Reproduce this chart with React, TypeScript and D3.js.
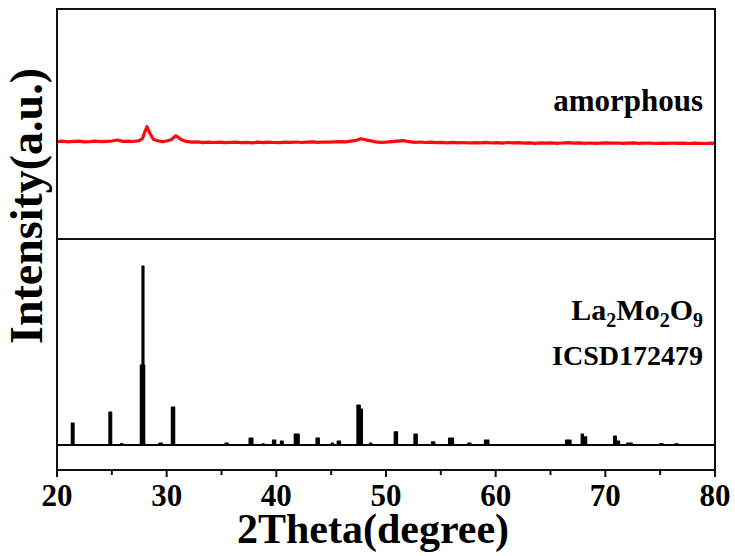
import React from "react";
import * as d3 from "d3";

const W = 735;
const H = 556;

// amorphous pattern (2θ, intensity a.u.)
const amorphX = [20, 20.5, 21, 21.5, 22, 22.5, 23, 23.5, 24, 24.5, 25, 25.5, 26, 26.5, 27, 27.5, 27.8, 28.0, 28.2, 28.45, 28.8, 29.2, 29.6, 30, 30.4, 30.85, 31.3, 31.8, 32.3, 32.8, 33.3, 33.8, 34.3, 34.8, 35.3, 35.8, 36.3, 36.8, 37.3, 37.8, 38.3, 38.8, 39.3, 39.8, 40.3, 40.8, 41.3, 41.8, 42.3, 42.8, 43.3, 43.8, 44.3, 44.8, 45.3, 45.8, 46.3, 46.8, 47.3, 47.7, 48.1, 48.5, 49, 49.5, 50, 50.5, 51, 51.6, 52.1, 52.6, 53.1, 53.6, 54.1, 54.6, 55.1, 55.6, 56.1, 56.6, 57.1, 57.6, 58.1, 58.6, 59.1, 59.6, 60.1, 60.6, 61.1, 61.6, 62.1, 62.6, 63.1, 63.6, 64.1, 64.6, 65.1, 65.6, 66.1, 66.6, 67.1, 67.6, 68.1, 68.6, 69.1, 69.6, 70.1, 70.6, 71.1, 71.6, 72.1, 72.6, 73.1, 73.6, 74.1, 74.6, 75.1, 75.6, 76.1, 76.6, 77.1, 77.6, 78.1, 78.6, 79.1, 79.6, 80];
const amorphY = [97.5, 97.9, 97.2, 97.6, 97.8, 97.1, 97.4, 97.9, 97.3, 97.6, 98.0, 99.0, 97.6, 97.9, 97.5, 98.3, 100.5, 107, 112.3, 106, 99.5, 98.2, 97.4, 98.0, 99.2, 103.3, 99.6, 97.6, 96.8, 97.2, 96.4, 96.9, 96.5, 96.9, 96.3, 96.7, 96.9, 96.3, 96.6, 96.2, 96.8, 96.4, 96.9, 96.5, 96.3, 96.9, 96.6, 97.0, 96.5, 96.9, 97.1, 96.6, 97.0, 96.8, 97.2, 97.4, 97.1, 97.9, 98.7, 100.3, 99.3, 98.4, 97.2, 96.6, 96.9, 97.4, 97.9, 98.4, 97.3, 96.6, 97.0, 96.5, 96.9, 96.4, 96.7, 96.2, 96.6, 96.1, 96.5, 96.0, 96.4, 96.1, 96.6, 96.0, 96.3, 95.9, 96.5, 96.1, 96.4, 95.8, 96.2, 95.7, 96.1, 95.8, 96.2, 95.6, 96.0, 96.3, 95.9, 96.1, 95.7, 96.0, 95.6, 95.9, 96.2, 95.8, 96.0, 95.6, 95.9, 96.1, 95.7, 96.0, 95.8, 95.5, 95.9, 95.7, 96.0, 95.6, 95.8, 95.5, 95.9, 95.7, 95.5, 95.9, 95.7];

// ICSD 172479 reference peaks
const refPos = [21.43, 24.86, 25.9, 27.8, 27.84, 29.45, 30.58, 35.47, 37.69, 38.8, 39.8, 40.5, 41.86, 43.77, 45.1, 45.7, 47.5, 47.7, 48.6, 50.9, 52.7, 54.3, 55.93, 57.6, 59.18, 66.62, 67.9, 68.2, 70.88, 71.2, 72.2, 75.1, 76.5];
const refInt = [12.3, 18.4, 0.8, 44.7, 100, 1.1, 21.2, 1.1, 3.9, 0.6, 2.8, 2.2, 6.1, 3.9, 1.1, 2.2, 22.3, 20, 1.1, 7.3, 6.1, 1.7, 3.9, 1.1, 2.8, 2.8, 6.1, 4.5, 5, 2.2, 1.1, 0.8, 0.6];
const refWid = [0.25, 0.25, 0.2, 0.4, 0.18, 0.3, 0.3, 0.3, 0.35, 0.2, 0.3, 0.25, 0.45, 0.3, 0.2, 0.3, 0.3, 0.3, 0.2, 0.3, 0.3, 0.3, 0.45, 0.3, 0.4, 0.5, 0.2, 0.2, 0.25, 0.2, 0.5, 0.3, 0.3];

const xTicks = [20, 30, 40, 50, 60, 70, 80];
const xMinor = [25, 35, 45, 55, 65, 75];

const L = 57, R = 715, T = 9, MID = 239, B = 470;
const FONT = "'Liberation Serif', 'Times New Roman', serif";

export default function App() {
  const x = d3.scaleLinear().domain([20, 80]).range([L, R]);
  const yTop = d3.scaleLinear().domain([0, 230]).range([MID, T]);
  const yBot = d3.scaleLinear().domain([0, 100]).range([445, 266]);

  const amorph = amorphX.map((v, i) => [v, amorphY[i]] as [number, number]);
  const line = d3
    .line<[number, number]>()
    .x((d) => x(d[0]))
    .y((d) => yTop(d[1]))
    .curve(d3.curveLinear);

  return (
    <svg width={W} height={H} style={{ position: "absolute", left: 0, top: 0, background: "#fff" }}>
      {/* amorphous curve */}
      <path d={line(amorph) || ""} fill="none" stroke="#ff0a0a" strokeWidth={3.2} strokeLinejoin="round" />
      {/* reference pattern */}
      <line x1={x(20)} x2={x(80)} y1={yBot(0)} y2={yBot(0)} stroke="#000" strokeWidth={2.2} />
      {refPos.map((p, i) => (
        <rect
          key={i}
          x={x(p - refWid[i] / 2)}
          width={x(p + refWid[i] / 2) - x(p - refWid[i] / 2)}
          y={yBot(refInt[i])}
          height={yBot(0) - yBot(refInt[i])}
          fill="#000"
          stroke="#000"
          strokeWidth={1.2}
          strokeLinejoin="round"
        />
      ))}
      {/* frame */}
      <rect x={L} y={T} width={R - L} height={B - T} fill="none" stroke="#111" strokeWidth={2} />
      <line x1={L} x2={R} y1={MID} y2={MID} stroke="#111" strokeWidth={2} />
      {/* ticks */}
      {xTicks.map((t) => (
        <line key={"M" + t} x1={x(t)} x2={x(t)} y1={B} y2={B + 7} stroke="#111" strokeWidth={2} />
      ))}
      {xMinor.map((t) => (
        <line key={"m" + t} x1={x(t)} x2={x(t)} y1={B} y2={B + 5} stroke="#111" strokeWidth={2} />
      ))}
      {xTicks.map((t) => (
        <text key={"t" + t} x={x(t)} y={506} textAnchor="middle" fontFamily={FONT} fontWeight="bold" fontSize={31} fill="#000">
          {t}
        </text>
      ))}
      <text x={373} y={543} textAnchor="middle" fontFamily={FONT} fontWeight="bold" fontSize={42} fill="#000">
        2Theta(degree)
      </text>
      <text
        transform={`translate(42, 206) rotate(-90)`}
        textAnchor="middle"
        fontFamily={FONT}
        fontWeight="bold"
        fontSize={46}
        fill="#000"
      >
        Intensity(a.u.)
      </text>
      <text x={703} y={111} textAnchor="end" fontFamily={FONT} fontWeight="bold" fontSize={31} fill="#000">
        amorphous
      </text>
      <text x={703} y={320} textAnchor="end" fontFamily={FONT} fontWeight="bold" fontSize={30} fill="#000">
        La<tspan fontSize={20} dy={7}>2</tspan>
        <tspan dy={-7}>Mo</tspan>
        <tspan fontSize={20} dy={7}>2</tspan>
        <tspan dy={-7}>O</tspan>
        <tspan fontSize={20} dy={7}>9</tspan>
      </text>
      <text x={703} y={365} textAnchor="end" fontFamily={FONT} fontWeight="bold" fontSize={28} fill="#000">
        ICSD172479
      </text>
    </svg>
  );
}
